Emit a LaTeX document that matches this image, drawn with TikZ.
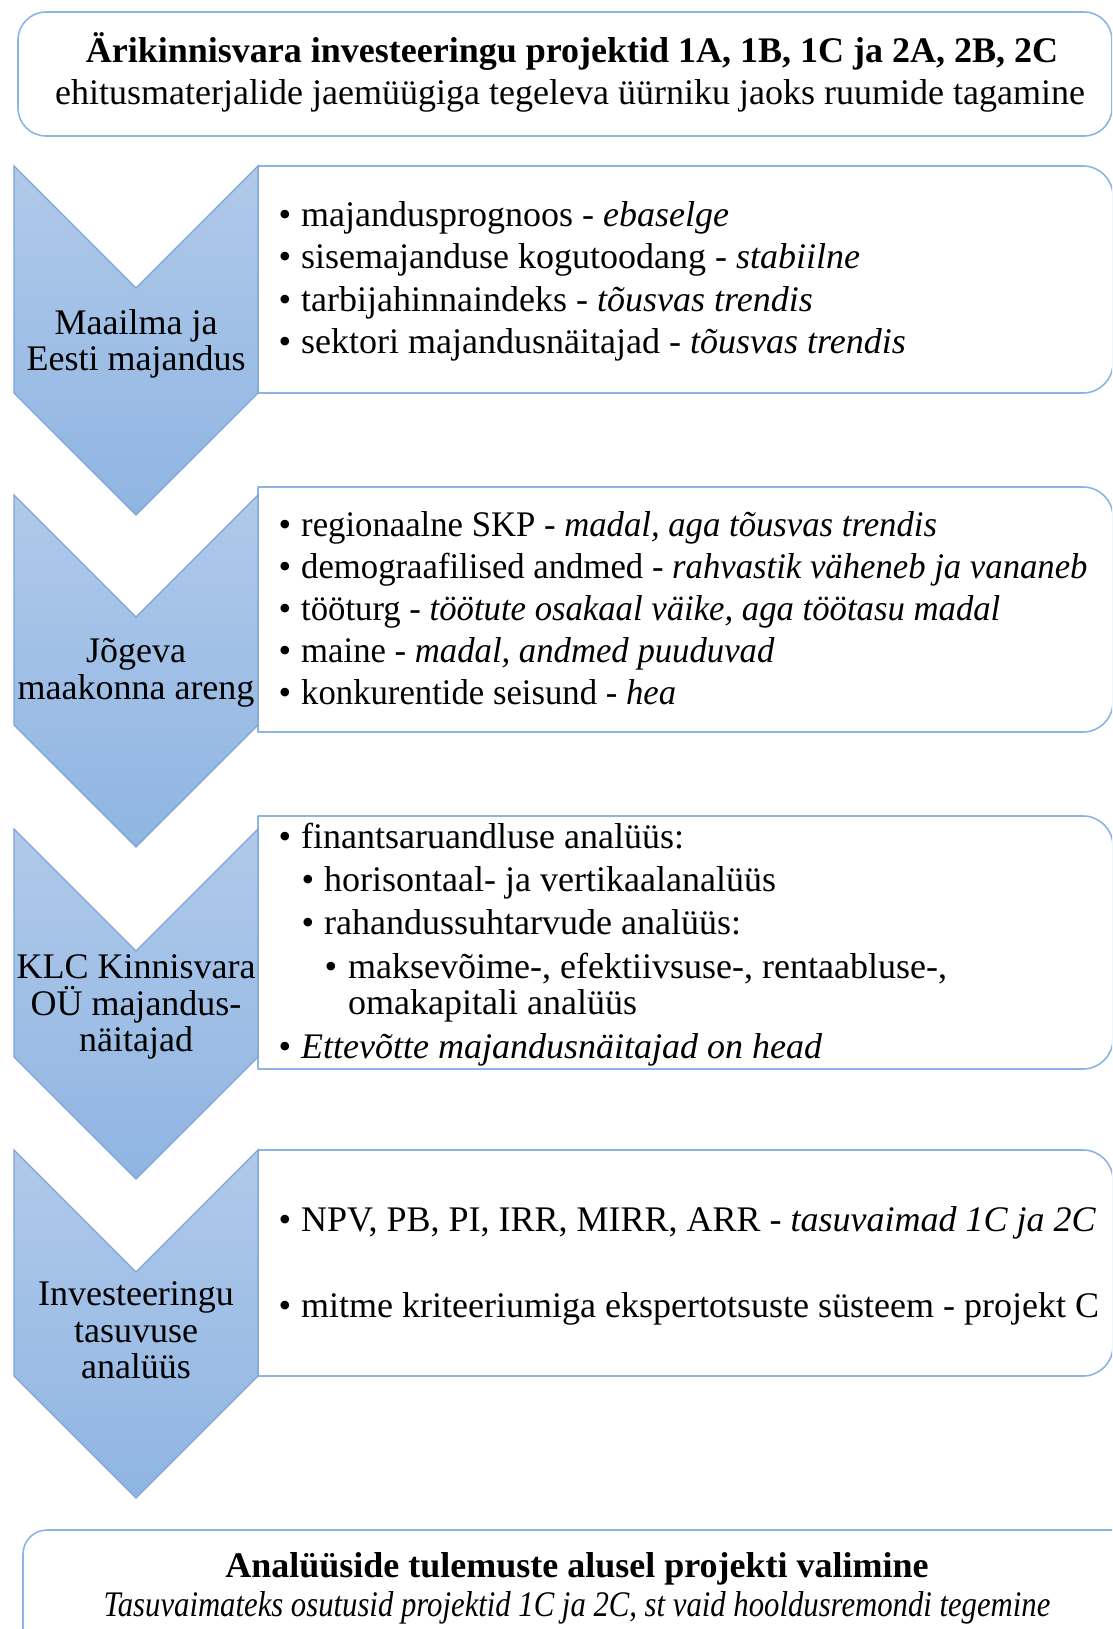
\documentclass[tikz,border=0pt]{standalone}
\usepackage{fontspec}
\setmainfont{Liberation Serif}
\definecolor{boxblue}{RGB}{141,180,226}
\definecolor{chevedge}{RGB}{126,164,215}
\definecolor{chevtop}{RGB}{176,201,234}
\definecolor{chevbot}{RGB}{143,181,226}
\tikzset{
  boxline/.style={draw=boxblue, line width=1.6pt},
  chevron/.style={draw=chevedge, line width=1.1pt, top color=chevtop, bottom color=chevbot},
  txt/.style={inner sep=0pt, font=\fontsize{36}{37}\selectfont},
  lbl/.style={txt, anchor=base},
  item/.style={txt, anchor=base west},
  narrowitem/.style={item, xscale=0.964},
  dot/.style={txt, anchor=base},
}
\begin{document}
\begin{tikzpicture}[x=1pt, y=-1pt]
\path[use as bounding box] (0,0) rectangle (1112,1629);
\clip (0,0) rectangle (1112,1629);

% heading box
\draw[boxline, rounded corners=28] (18,12) rectangle (1112,136);
\node[lbl] (title) at (572,63) {\bfseries Ärikinnisvara investeeringu projektid 1A, 1B, 1C ja 2A, 2B, 2C};
\node[lbl] (subtitle) at (570,105) {ehitusmaterjalide jaemüügiga tegeleva üürniku jaoks ruumide tagamine};

% content boxes, rounded on the right side only
\begin{scope}
  \clip (257.5,0) rectangle (1112,1629);
  \draw[boxline, rounded corners=30] (220,166) rectangle (1113,393);
  \draw[boxline, rounded corners=30] (220,487) rectangle (1113,732);
  \draw[boxline, rounded corners=30] (220,816) rectangle (1113,1069);
  \draw[boxline, rounded corners=30] (220,1150) rectangle (1113,1376);
\end{scope}
\draw[boxline] (258,166) -- (258,393);
\draw[boxline] (258,487) -- (258,732);
\draw[boxline] (258,816) -- (258,1069);
\draw[boxline] (258,1150) -- (258,1376);

% chevrons
\draw[chevron] (14,166) -- (136,288) -- (258,166) -- (258,393) -- (136,515) -- (14,393) -- cycle;
\draw[chevron] (14,495) -- (136,617) -- (258,495) -- (258,725) -- (136,847) -- (14,725) -- cycle;
\draw[chevron] (14,829) -- (136,951) -- (258,829) -- (258,1057) -- (136,1179) -- (14,1057) -- cycle;
\draw[chevron] (14,1150) -- (136,1272) -- (258,1150) -- (258,1376) -- (136,1498) -- (14,1376) -- cycle;

% chevron labels
\node[lbl] (c1a) at (136,334) {Maailma ja};
\node[lbl] (c1b) at (136,370) {Eesti majandus};
\node[lbl] (c2a) at (136,662) {Jõgeva};
\node[lbl] (c2b) at (136,699) {maakonna areng};
\node[lbl] (c3a) at (136,978) {KLC Kinnisvara};
\node[lbl] (c3b) at (136,1015) {OÜ majandus-};
\node[lbl] (c3c) at (136,1051) {näitajad};
\node[lbl] (c4a) at (136,1305) {Investeeringu};
\node[lbl] (c4b) at (136,1342) {tasuvuse};
\node[lbl] (c4c) at (136,1378) {analüüs};

% box 1
\node[dot] (d11) at (285,227) {•};
\node[item] (t11) at (301,227) {majandusprognoos - \textit{ebaselge}};
\node[dot] (d12) at (285,269) {•};
\node[item] (t12) at (301,269) {sisemajanduse kogutoodang - \textit{stabiilne}};
\node[dot] (d13) at (285,311) {•};
\node[item] (t13) at (301,311) {tarbijahinnaindeks - \textit{tõusvas trendis}};
\node[dot] (d14) at (285,353) {•};
\node[item] (t14) at (301,353) {sektori majandusnäitajad - \textit{tõusvas trendis}};

% box 2
\node[dot] (d21) at (285,536) {•};
\node[narrowitem] (t21) at (301,536) {regionaalne SKP - \textit{madal, aga tõusvas trendis}};
\node[dot] (d22) at (285,578) {•};
\node[narrowitem] (t22) at (301,578) {demograafilised andmed - \textit{rahvastik väheneb ja vananeb}};
\node[dot] (d23) at (285,620) {•};
\node[narrowitem] (t23) at (301,620) {tööturg - \textit{töötute osakaal väike, aga töötasu madal}};
\node[dot] (d24) at (285,662) {•};
\node[narrowitem] (t24) at (301,662) {maine - \textit{madal, andmed puuduvad}};
\node[dot] (d25) at (285,704) {•};
\node[narrowitem] (t25) at (301,704) {konkurentide seisund - \textit{hea}};

% box 3
\node[dot] (d31) at (285,848) {•};
\node[item] (t31) at (301,848) {finantsaruandluse analüüs:};
\node[dot] (d32) at (308,891) {•};
\node[item] (t32) at (324,891) {horisontaal- ja vertikaalanalüüs};
\node[dot] (d33) at (308,934) {•};
\node[item] (t33) at (324,934) {rahandussuhtarvude analüüs:};
\node[dot] (d34) at (331,978) {•};
\node[item] (t34) at (348,978) {maksevõime-, efektiivsuse-, rentaabluse-,};
\node[item] (t35) at (348,1014) {omakapitali analüüs};
\node[dot] (d36) at (285,1058) {•};
\node[item] (t36) at (301,1058) {\textit{Ettevõtte majandusnäitajad on head}};

% box 4
\node[dot] (d41) at (285,1231) {•};
\node[item] (t41) at (301,1231) {NPV, PB, PI, IRR, MIRR, ARR - \textit{tasuvaimad 1C ja 2C}};
\node[dot] (d42) at (285,1317) {•};
\node[item] (t42) at (301,1317) {mitme kriteeriumiga ekspertotsuste süsteem - projekt C};

% result box
\draw[boxline, rounded corners=24] (23,1530) rectangle (1160,1690);
\node[lbl] (result) at (577,1577) {\bfseries Analüüside tulemuste alusel projekti valimine};
\node[lbl, xscale=0.853] (resultnote) at (577,1616) {\itshape Tasuvaimateks osutusid projektid 1C ja 2C, st vaid hooldusremondi tegemine};
\end{tikzpicture}
\end{document}
